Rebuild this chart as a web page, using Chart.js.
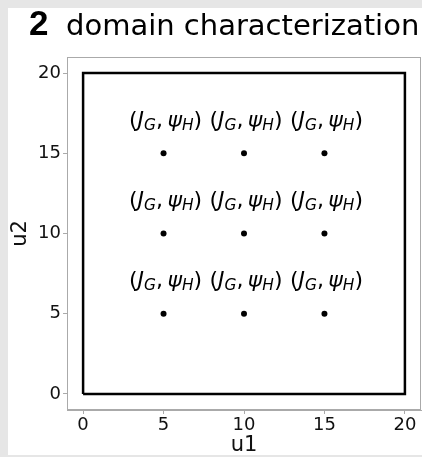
<!DOCTYPE html>
<html>
<head>
    <title>domain characterization</title>
    <script src="https://cdn.jsdelivr.net/npm/chart.js@4.4.0/dist/chart.umd.min.js"></script>
    <style>
        body { margin: 0; background: #e6e6e6; }
        canvas { display: block; }
    </style>
</head>
<body>
    <canvas id="domainChart" width="422" height="457"></canvas>
    <script>
        // values
        var xTicks = [0, 5, 10, 15, 20];
        var yTicks = [0, 5, 10, 15, 20];
        var sampleU1 = [5, 10, 15, 5, 10, 15, 5, 10, 15];
        var sampleU2 = [5, 5, 5, 10, 10, 10, 15, 15, 15];
        var boxU1 = [0, 20, 20, 0, 0];
        var boxU2 = [0, 0, 20, 20, 0];
        var labelOffset = 2;

        var boxPoints = boxU1.map(function (u, i) { return { x: u, y: boxU2[i] }; });
        var samplePoints = sampleU1.map(function (u, i) { return { x: u, y: sampleU2[i] }; });

        function fixedTicks(list) {
            return function (scale) {
                scale.ticks = list.map(function (v) { return { value: v }; });
            };
        }

        // (J_G, psi_H) in mathtext style
        function drawMathLabel(ctx, cx, cy, size) {
            var sub = size * 0.7;
            var parts = [
                { t: '(', f: size + 'px "DejaVu Sans"', dy: 0 },
                { t: 'J', f: 'italic ' + size + 'px "DejaVu Sans"', dy: 0 },
                { t: 'G', f: 'italic ' + sub + 'px "DejaVu Sans"', dy: size * 0.22 },
                { t: ',', f: size + 'px "DejaVu Sans"', dy: 0 },
                { t: 'ψ', f: 'italic ' + size + 'px "DejaVu Sans"', dy: 0, pre: size * 0.2 },
                { t: 'H', f: 'italic ' + sub + 'px "DejaVu Sans"', dy: size * 0.22 },
                { t: ')', f: size + 'px "DejaVu Sans"', dy: 0 }
            ];
            var w = 0;
            parts.forEach(function (p) {
                ctx.font = p.f;
                p.w = ctx.measureText(p.t).width;
                w += p.w + (p.pre || 0);
            });
            var x = cx - w / 2;
            ctx.textBaseline = 'middle';
            ctx.textAlign = 'left';
            ctx.fillStyle = '#000';
            parts.forEach(function (p) {
                ctx.font = p.f;
                x += p.pre || 0;
                ctx.fillText(p.t, x, cy + p.dy);
                x += p.w;
            });
        }

        var decor = {
            id: 'decor',
            beforeDraw: function (chart) {
                var ctx = chart.ctx;
                ctx.save();
                ctx.fillStyle = '#e6e6e6';
                ctx.fillRect(0, 0, chart.width, chart.height);
                ctx.fillStyle = '#ffffff';
                ctx.fillRect(8, 8, chart.width - 8, 447);
                // title
                ctx.fillStyle = '#000';
                ctx.textBaseline = 'alphabetic';
                ctx.font = 'bold 35px "Liberation Sans"';
                ctx.fillText('2', 29, 35);
                ctx.font = '29px "DejaVu Sans"';
                ctx.fillText('domain characterization', 66, 35);
                ctx.restore();
            },
            afterDatasetsDraw: function (chart) {
                var ctx = chart.ctx;
                var a = chart.chartArea;
                var xs = chart.scales.x, ys = chart.scales.y;
                ctx.save();
                ctx.strokeStyle = '#aaaaaa';
                ctx.lineWidth = 1;
                ctx.strokeRect(a.left + 0.5, a.top + 0.5, a.right - a.left - 1, a.bottom - a.top - 1);
                for (var i = 0; i < sampleU1.length; i++) {
                    drawMathLabel(ctx, xs.getPixelForValue(sampleU1[i]) + 2,
                        ys.getPixelForValue(sampleU2[i] + labelOffset), 22);
                }
                ctx.restore();
            }
        };

        var tickFont = { family: 'DejaVu Sans', size: 18 };

        new Chart(document.getElementById('domainChart'), {
            type: 'scatter',
            data: {
                datasets: [{
                    data: boxPoints,
                    showLine: true,
                    borderColor: '#000',
                    borderWidth: 2.5,
                    pointRadius: 0,
                    fill: false
                }, {
                    data: samplePoints,
                    backgroundColor: '#000',
                    borderColor: '#000',
                    pointRadius: 3,
                    borderWidth: 0
                }]
            },
            options: {
                responsive: false,
                animation: false,
                layout: { autoPadding: false, padding: { top: 57, right: 1, left: 8, bottom: 2 } },
                plugins: { legend: { display: false }, tooltip: { enabled: false } },
                scales: {
                    x: {
                        type: 'linear', min: -1, max: 21,
                        afterBuildTicks: fixedTicks(xTicks),
                        afterFit: function (s) { s.height = 45; s.paddingLeft = 0; s.paddingRight = 0; },
                        grid: { drawOnChartArea: false, drawTicks: true, tickLength: 4, color: '#aaaaaa' },
                        border: { display: true, color: '#aaaaaa' },
                        ticks: { font: tickFont, color: '#111', padding: 1, maxRotation: 0 },
                        title: { display: true, text: 'u1', font: { family: 'DejaVu Sans', size: 21 }, color: '#111', padding: { top: 0, bottom: -3 } }
                    },
                    y: {
                        type: 'linear', min: -1, max: 21,
                        afterBuildTicks: fixedTicks(yTicks),
                        afterFit: function (s) { s.width = 59; s.paddingTop = 0; s.paddingBottom = 0; },
                        grid: { drawOnChartArea: false, drawTicks: true, tickLength: 4, color: '#aaaaaa' },
                        border: { display: true, color: '#aaaaaa' },
                        ticks: { font: tickFont, color: '#111', padding: 2 },
                        title: { display: true, text: 'u2', font: { family: 'DejaVu Sans', size: 21 }, color: '#111', padding: 0 }
                    }
                }
            },
            plugins: [decor]
        });
    </script>
</body>
</html>
